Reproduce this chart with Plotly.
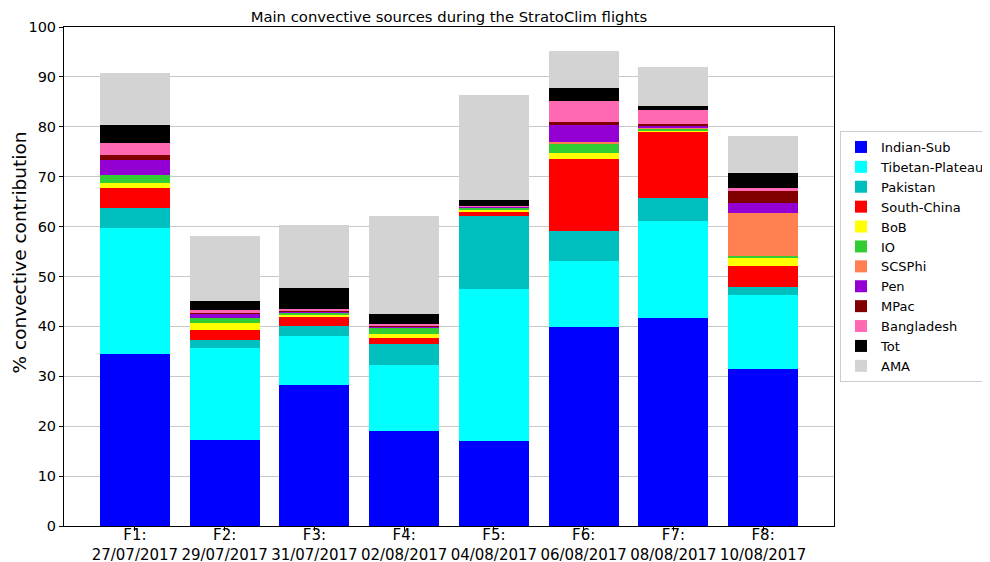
import plotly.graph_objects as go

flights = ['F1:<br>27/07/2017', 'F2:<br>29/07/2017', 'F3:<br>31/07/2017', 'F4:<br>02/08/2017',
           'F5:<br>04/08/2017', 'F6:<br>06/08/2017', 'F7:<br>08/08/2017', 'F8:<br>10/08/2017']

# % contribution of each source, per flight (stacked bottom to top)
indian_sub = [34.5, 17.2, 28.3, 19.1, 17.0, 39.9, 41.7, 31.4]
tibetan_plateau = [25.3, 18.4, 9.7, 13.2, 30.4, 13.2, 19.5, 14.9]
pakistan = [4.0, 1.7, 2.1, 4.2, 14.8, 6.0, 4.5, 1.6]
south_china = [4.0, 2.0, 1.7, 1.1, 0.9, 14.4, 13.3, 4.3]
bob = [0.9, 1.3, 0.5, 0.9, 0.3, 1.2, 0.2, 1.6]
io = [1.7, 1.0, 0.4, 1.1, 0.4, 2.0, 0.5, 0.3]
scsphi = [0.0, 0.0, 0.0, 0.0, 0.0, 0.3, 0.1, 8.6]
pen = [3.0, 0.9, 0.35, 0.4, 0.2, 3.4, 0.5, 2.0]
mpac = [0.9, 0.2, 0.15, 0.1, 0.05, 0.6, 0.2, 2.4]
bangladesh = [2.4, 0.5, 0.3, 0.4, 0.15, 4.2, 2.8, 0.6]
tot = [3.7, 1.8, 4.1, 2.0, 1.2, 2.6, 0.9, 3.0]
ama = [10.3, 13.1, 12.7, 19.6, 21.0, 7.4, 7.7, 7.5]

series = [
    ('Indian-Sub', indian_sub, '#0000FF'),
    ('Tibetan-Plateau', tibetan_plateau, '#00FFFF'),
    ('Pakistan', pakistan, '#00BFBF'),
    ('South-China', south_china, '#FF0000'),
    ('BoB', bob, '#FFFF00'),
    ('IO', io, '#32CD32'),
    ('SCSPhi', scsphi, '#FF7F50'),
    ('Pen', pen, '#9400D3'),
    ('MPac', mpac, '#800000'),
    ('Bangladesh', bangladesh, '#FF69B4'),
    ('Tot', tot, '#000000'),
    ('AMA', ama, '#D3D3D3'),
]

fig = go.Figure()
x_pos = list(range(len(flights)))

for name, vals, color in series:
    fig.add_trace(go.Bar(
        x=x_pos,
        y=vals,
        name=name,
        width=0.78,
        marker=dict(color=color, line=dict(width=0)),
    ))

# page body has an 8px margin, so figure coords are shifted by 8px
fig.update_layout(
    barmode='stack',
    width=982,
    height=554,
    margin=dict(l=56, r=156, t=19, b=36),
    paper_bgcolor='white',
    plot_bgcolor='white',
    font=dict(family='DejaVu Sans', size=14, color='black'),
    title=dict(text='Main convective sources during the StratoClim flights',
               xref='paper', x=0.5, xanchor='center', y=0.985, yanchor='middle',
               font=dict(size=14.8)),
    xaxis=dict(
        range=[-0.79, 7.79],
        tickvals=x_pos,
        ticktext=flights,
        tickfont=dict(size=15),
        tickangle=0,
        ticklabelstandoff=-9,
        showgrid=False,
        showline=True, linecolor='black', linewidth=1, mirror=True,
        ticks='outside', ticklen=4, tickcolor='black',
        zeroline=False,
        automargin=False,
    ),
    yaxis=dict(
        range=[0, 100],
        dtick=10,
        tickfont=dict(size=14.5),
        showgrid=True, gridcolor='#C8C8C8', gridwidth=1,
        showline=True, linecolor='black', linewidth=1, mirror=True,
        ticks='outside', ticklen=4, tickcolor='black',
        zeroline=False,
        automargin=False,
    ),
    legend=dict(
        xref='container', yref='container',
        x=832 / 982, y=0.778, xanchor='left', yanchor='top',
        traceorder='normal',
        font=dict(size=13),
        bordercolor='#CCCCCC', borderwidth=1,
        bgcolor='white',
        tracegroupgap=0,
        itemwidth=30,
    ),
    bargap=0,
)

fig.add_annotation(
    text='% convective contribution',
    xref='paper', yref='paper',
    x=-0.058, y=0.549,
    xanchor='center', yanchor='middle',
    textangle=-90,
    showarrow=False,
    borderpad=0,
    font=dict(size=18.5),
)

fig.write_html('out.html')
